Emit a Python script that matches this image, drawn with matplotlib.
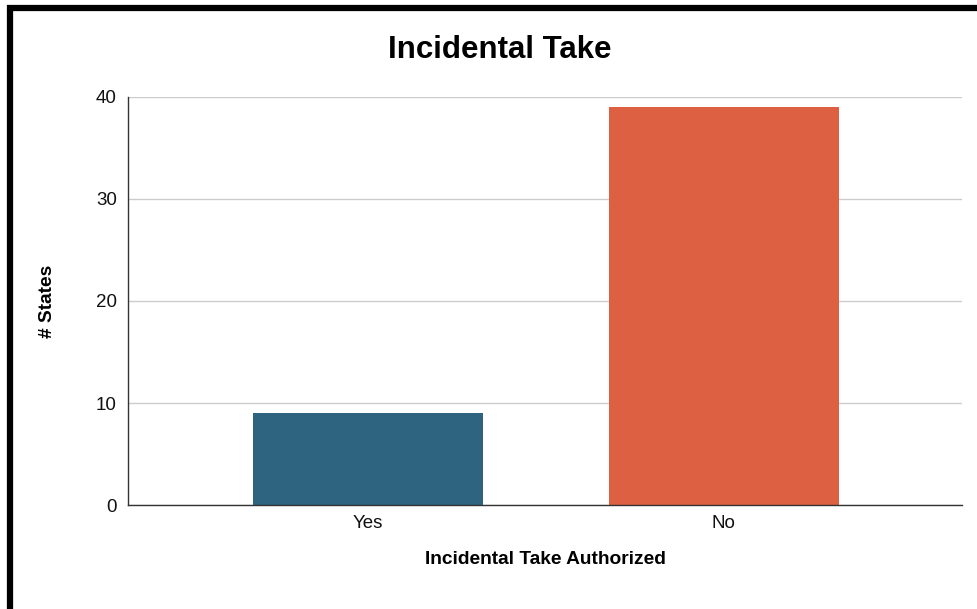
import matplotlib
matplotlib.use("Agg")
import matplotlib.pyplot as plt
from matplotlib.lines import Line2D

plt.rcParams['font.family'] = ['Liberation Sans', 'DejaVu Sans']

categories = ["Yes", "No"]
values = [9, 39]
colors = ["#2E6480", "#DD6042"]
yticks = [0, 10, 20, 30, 40]

fig = plt.figure(figsize=(9.77, 6.09), dpi=100)
ax = fig.add_axes([128 / 977, 1 - 505 / 609, (962 - 128) / 977, (505 - 97) / 609])

x = list(range(len(categories)))
ax.bar(x, values, width=0.646, color=colors, zorder=3)

ax.set_xlim(-0.674, 1.669)
ax.set_ylim(0, 40)
ax.set_yticks(yticks)
ax.set_xticks(x)
ax.set_xticklabels(categories)
ax.tick_params(axis="both", length=0, labelsize=13.5, colors="#111111")
ax.tick_params(axis="y", pad=8)
ax.tick_params(axis="x", pad=7)
ax.grid(axis="y", color="#cccccc", linewidth=1, zorder=0)

for s in ["top", "right"]:
    ax.spines[s].set_visible(False)
for s in ["left", "bottom"]:
    ax.spines[s].set_color("#333333")
    ax.spines[s].set_linewidth(1)
    ax.spines[s].set_zorder(4)

ax.set_xlabel("Incidental Take Authorized", fontsize=13.8, fontweight="bold", labelpad=14)
ax.set_ylabel("# States", fontsize=13.8, fontweight="bold", labelpad=29)

fig.text(500 / 977, 1 - 50 / 609, "Incidental Take", fontsize=22.5, fontweight="bold",
         ha="center", va="center")

# black frame on top and left
fig.add_artist(Line2D([7 / 977, 1], [1 - 8 / 609, 1 - 8 / 609], color="black",
                      linewidth=4.5, solid_capstyle="butt", transform=fig.transFigure))
fig.add_artist(Line2D([10 / 977, 10 / 977], [0, 1 - 5 / 609], color="black",
                      linewidth=4.5, solid_capstyle="butt", transform=fig.transFigure))

fig.savefig("out.png", dpi=100)
